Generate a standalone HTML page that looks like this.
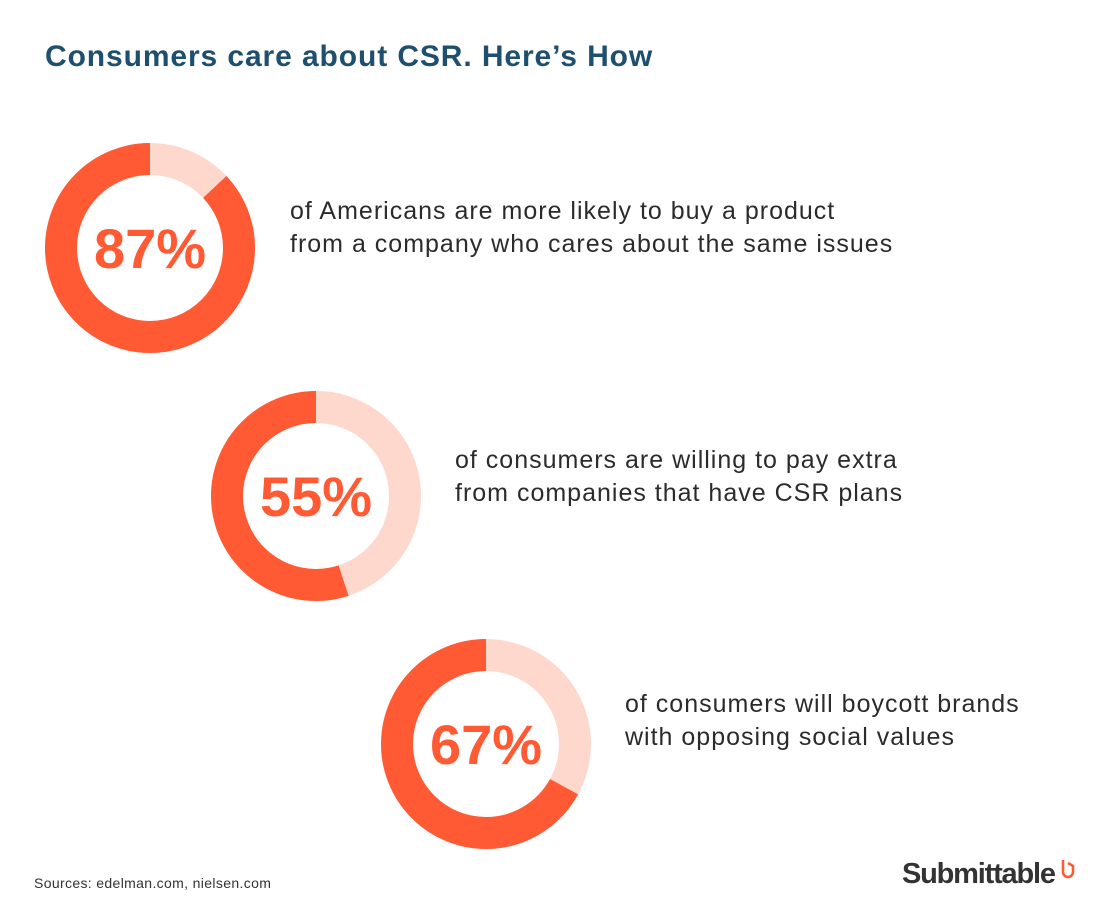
<!DOCTYPE html>
<html><head><meta charset="utf-8"><style>
body{margin:0;width:1100px;height:916px;background:#fff;font-family:"Liberation Sans",sans-serif;overflow:hidden;position:relative}
.t{position:absolute;font-size:25px;line-height:33px;color:#2b2b2b;letter-spacing:1px}
</style></head><body>
<div style="position:absolute;left:45px;top:40px;font-size:30px;font-weight:bold;color:#1e4f6e;letter-spacing:0.9px">Consumers care about CSR. Here’s How</div>
<svg id="c" width="1100" height="916" style="position:absolute;left:0;top:0"></svg>
<div class="t" style="left:290px;top:195px">of Americans are more likely to buy a product<br>from a company who cares about the same issues</div>
<div class="t" style="left:455px;top:444px">of consumers are willing to pay extra<br>from companies that have CSR plans</div>
<div class="t" style="left:625px;top:688px">of consumers will boycott brands<br>with opposing social values</div>
<div style="position:absolute;left:34px;top:875px;font-size:14px;color:#333;letter-spacing:0.35px">Sources: edelman.com, nielsen.com</div>
<div style="position:absolute;left:902px;top:858px;font-size:29px;font-weight:bold;color:#333;letter-spacing:-1.2px">Submittable</div>
<svg width="16" height="22" style="position:absolute;left:1060px;top:858px"><path d="M3 2 V14 a5 5 0 0 0 10 0 V8 L8 5" fill="none" stroke="#ff5a33" stroke-width="2.6"/></svg>
<script>
const values=[87,55,67];
const labels=["87%","55%","67%"];
const cx=[150,316,486], cy=[248,496,744];
const svg=document.getElementById('c');const NS='http://www.w3.org/2000/svg';
const R=89,W=32,C=2*Math.PI*R;
values.forEach((v,i)=>{
 const bg=document.createElementNS(NS,'circle');
 
 
 bg.setAttribute('cx',cx[i]);bg.setAttribute('cy',cy[i]);bg.setAttribute('r',R);
 bg.setAttribute('fill','none');bg.setAttribute('stroke','#ffd8cd');bg.setAttribute('stroke-width',W);
 svg.appendChild(bg);
 const a=document.createElementNS(NS,'circle');
 
 
 a.setAttribute('cx',cx[i]);a.setAttribute('cy',cy[i]);a.setAttribute('r',R);
 a.setAttribute('fill','none');a.setAttribute('stroke','#ff5a33');a.setAttribute('stroke-width',W);
 a.setAttribute('stroke-dasharray',(C*v/100)+' '+C);
 a.setAttribute('transform',`translate(${cx[i]},${cy[i]}) scale(-1,1) rotate(-90) translate(${-cx[i]},${-cy[i]})`);
 svg.appendChild(a);
 const t=document.createElementNS(NS,'text');
 
 
 t.setAttribute('x',cx[i]);t.setAttribute('y',cy[i]+20);t.setAttribute('text-anchor','middle');
 t.setAttribute('font-size','56');t.setAttribute('font-weight','bold');t.setAttribute('fill','#ff5a33');
 t.setAttribute('font-family','Liberation Sans, sans-serif');
 t.textContent=labels[i];svg.appendChild(t);
});
</script>
</body></html>
